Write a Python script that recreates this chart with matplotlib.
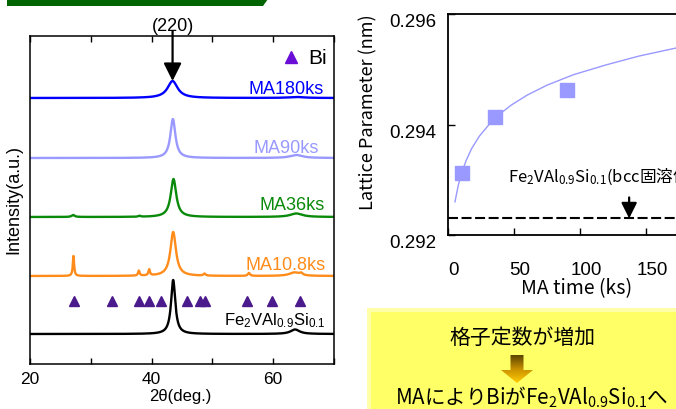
import numpy as np
import matplotlib
matplotlib.use("Agg")
import matplotlib.pyplot as plt
from matplotlib.patches import Polygon, Rectangle
from matplotlib.colors import LinearSegmentedColormap
from matplotlib.transforms import ScaledTranslation

plt.rcParams['font.family'] = ['Liberation Sans', 'DejaVu Sans']
plt.rcParams['mathtext.default'] = 'regular'

# ---------------- data ----------------
# XRD patterns (arbitrary units); peaks as (2theta, height, hwhm)
pattern_names = ["MA180ks", "MA90ks", "MA36ks", "MA10.8ks", "Fe$_2$VAl$_{0.9}$Si$_{0.1}$"]
pattern_colors = ["#0000ff", "#9999ff", "#0a8a0a", "#ff8c1a", "#000000"]
pattern_offsets = [266, 206, 147, 88, 30]
pattern_peaks = [
    [(43.45, 17, 1.0), (63.8, 1.0, 1.5)],
    [(43.5, 39, 0.5), (63.8, 3, 1.2)],
    [(43.6, 38, 0.55), (27.1, 2, 0.3), (38.0, 1, 0.2), (63.8, 3.5, 1.2)],
    [(43.55, 44, 0.55), (27.15, 20, 0.13), (37.9, 5, 0.15), (39.6, 6, 0.15),
     (48.7, 2, 0.2), (56.0, 3, 0.2), (63.5, 3.5, 1.0), (64.6, 2, 0.3)],
    [(43.55, 54, 0.42), (63.6, 4.5, 0.9)],
]
label_pos = [(68.3, 270.7), (67.5, 211.7), (68.55, 155), (68.55, 95), (68.55, 40)]
label_sizes = [13, 13, 13, 13, 12]
bi_positions = [27.19, 33.5, 37.99, 39.59, 41.61, 45.89, 48.03, 48.75, 55.77, 59.78, 64.49]
bi_level = 62.7

# Lattice parameter vs MA time
ma_time = [10.8, 36, 90]
lattice = [0.29313, 0.29414, 0.29462]
fit_time = [5.5, 8, 10.5, 14, 18, 24, 32, 40, 48, 60, 75, 95, 120, 145, 172, 180]
fit_lattice = [0.29260, 0.29290, 0.29312, 0.29335, 0.29356, 0.29379, 0.29402, 0.29420,
               0.29435, 0.29453, 0.29471, 0.29490, 0.29508, 0.29524, 0.29538, 0.29542]
bcc_value = 0.29230

W, H = 676, 410
fig = plt.figure(figsize=(W / 100, H / 100), dpi=100)

def fx(px):
    return px / W

def fy(py):
    return 1 - py / H

# ---------------- left panel ----------------
ax1 = fig.add_axes([fx(30), fy(365), (334 - 30) / W, (365 - 37) / H])
tt = np.linspace(20, 70, 2001)
for name, col, off, peaks, (lx, ly), fs in zip(pattern_names, pattern_colors, pattern_offsets,
                                             pattern_peaks, label_pos, label_sizes):
    y = np.full_like(tt, float(off))
    for (p, h, w) in peaks:
        y += h / (1 + ((tt - p) / w) ** 2)
    ax1.plot(tt, y, color=col, lw=1.7)
    ax1.text(lx, ly, name, color=col, fontsize=fs, ha='right', va='baseline')

ax1.plot(bi_positions, [bi_level] * len(bi_positions), ls='none', marker='^',
         color='#4b1a8c', ms=7)
ax1.plot([62.96], [306.7], ls='none', marker='^', color='#6a0dd6', ms=9)
ax1.text(65.8, 301, "Bi", fontsize=15, ha='left', va='baseline')

ax1.set_xlim(20, 70)
ax1.set_ylim(0, 328)
ax1.set_yticks([])
ax1.set_xticks([20, 30, 40, 50, 60, 70])
ax1.set_xticklabels(['20', '', '40', '', '60', ''])
ax1.tick_params(axis='x', direction='in', top=True, length=4.5, width=1, labelsize=12.5, pad=5)
for s in ax1.spines.values():
    s.set_linewidth(1.1)

ax1.text(43.5, 334, "(220)", fontsize=13, ha='center', va='baseline', clip_on=False)
ax1.annotate('', xy=(43.45, 283), xytext=(43.45, 333),
             arrowprops=dict(arrowstyle='-|>,head_length=1.0,head_width=0.5',
                             mutation_scale=10.8, lw=1.6, color='k',
                             shrinkA=0, shrinkB=0), annotation_clip=False)

fig.text(fx(14), fy(200), "Intensity(a.u.)", rotation=90, ha='center', va='center', fontsize=13)
fig.text(fx(180), fy(397), "2θ(deg.)", ha='center', va='center', fontsize=12)

# ---------------- right panel ----------------
ax2 = fig.add_axes([fx(447.7), fy(236), (712 - 447.7) / W, (236 - 15) / H])
ax2.plot(fit_time, fit_lattice, color='#9999ff', lw=1.0)
ax2.plot(ma_time, lattice, ls='none', marker='s', ms=10, color='#9999ff')
ax2.axhline(bcc_value, color='k', lw=1.5, ls=(0, (4.8, 1.7)))
ax2.set_xlim(0, 200)
ax2.set_ylim(0.292, 0.296)
ax2.set_xticks([0, 50, 100, 150, 200])
ax2.set_yticks([0.292, 0.294, 0.296])
ax2.set_yticklabels(['0.292', '0.294', '0.296'])
ax2.tick_params(direction='in', length=5, width=1, labelsize=13.5)
ax2.tick_params(axis='y', pad=8)
ax2.tick_params(axis='x', pad=19)
for s in ax2.spines.values():
    s.set_linewidth(1.3)
for lab in ax2.get_xticklabels():
    lab.set_transform(lab.get_transform() + ScaledTranslation(6 / 100, 0, fig.dpi_scale_trans))
for lab in ax2.get_yticklabels():
    lab.set_transform(lab.get_transform() + ScaledTranslation(0, -6 / 100, fig.dpi_scale_trans))

ax2.text(45.6, 0.292983, "Fe$_2$VAl$_{0.9}$Si$_{0.1}$(bcc固溶体)", fontsize=12,
         family='Noto Sans CJK JP', ha='left', va='baseline', clip_on=False)
ax2.annotate('', xy=(137.3, bcc_value), xytext=(137.3, 0.29268),
             arrowprops=dict(arrowstyle='-|>,head_length=1.0,head_width=0.5',
                             mutation_scale=9.4, lw=1.6, color='k',
                             shrinkA=0, shrinkB=0))

fig.text(fx(368), fy(112), "Lattice Parameter (nm)", rotation=90, ha='center', va='center',
         fontsize=13, family='Noto Sans CJK JP')
fig.text(fx(577), fy(289), "MA time (ks)", ha='center', va='center', fontsize=14,
         family='Noto Sans CJK JP')

# ---------------- overlay decorations ----------------
ov = fig.add_axes([0, 0, 1, 1], zorder=5)
ov.set_xlim(0, W)
ov.set_ylim(H, 0)
ov.axis('off')
ov.patch.set_visible(False)

ov.add_patch(Polygon([(7, 0), (268, 0), (263, 7), (7, 7)], closed=True,
                     facecolor='#006400', edgecolor='none'))

ov.add_patch(Rectangle((367, 309), 320, 120, facecolor='#ffffa8', edgecolor='none', zorder=1))
ov.add_patch(Rectangle((371, 313), 320, 120, facecolor='#ffff66', edgecolor='none', zorder=1.5))

ov.text(523, 338, "格子定数が増加", fontsize=15, family='Noto Sans CJK JP',
        ha='center', va='center', zorder=4)
ov.text(532, 397.5, "MAによりBiがFe$_2$VAl$_{0.9}$Si$_{0.1}$へ", fontsize=14.8,
        family='Noto Sans CJK JP', ha='center', va='center', zorder=4)

arrow_poly = Polygon([(510.5, 356), (523.5, 356), (523.5, 371), (533, 371), (517, 384),
                      (501, 371), (510.5, 371)], closed=True, facecolor='none',
                     edgecolor='none', transform=ov.transData)
cmap = LinearSegmentedColormap.from_list('g', ['#5c4400', '#c89000', '#ffcc00'])
grad = np.linspace(0, 1, 64)[:, None]
im = ov.imshow(grad, cmap=cmap, extent=(500, 534, 384, 356), aspect='auto',
               origin='upper', interpolation='bilinear', zorder=3)
im.set_clip_path(arrow_poly)
ov.set_xlim(0, W)
ov.set_ylim(H, 0)

fig.savefig("out.png", dpi=100)
